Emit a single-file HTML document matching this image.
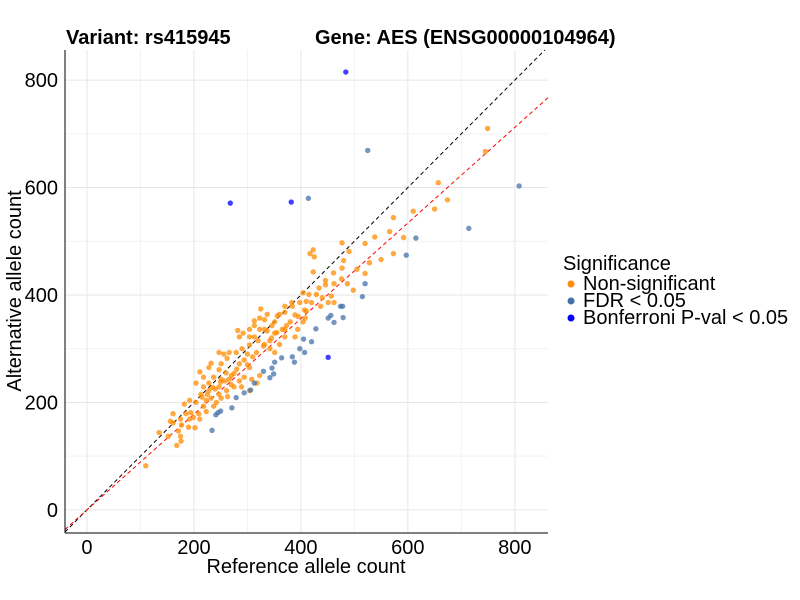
<!DOCTYPE html>
<html><head><meta charset="utf-8"><style>
body{margin:0;background:#fff}
svg{display:block;font-family:"Liberation Sans",sans-serif}
</style></head><body>
<svg id="chart" width="800" height="600" viewBox="0 0 800 600">
<rect width="800" height="600" fill="#fff"/>
<g id="grid"></g>
<g id="lines"></g>
<g id="points"></g>
<line x1="65" y1="50" x2="65" y2="533" stroke="#000" stroke-width="1"/>
<line x1="65" y1="533" x2="548" y2="533" stroke="#000" stroke-width="1"/>
<g id="xticks"></g>
<g id="yticks"></g>
<text x="66" y="44" font-size="20" font-weight="bold">Variant: rs415945</text>
<text x="315" y="44" font-size="20" font-weight="bold">Gene: AES (ENSG00000104964)</text>
<text x="306" y="573" font-size="20" text-anchor="middle">Reference allele count</text>
<text transform="translate(21,291) rotate(-90)" font-size="20" text-anchor="middle">Alternative allele count</text>
<g>
<text x="563" y="270" font-size="20">Significance</text>
<circle cx="571" cy="284" r="3.5" fill="#FF8C00"/>
<text x="583" y="290" font-size="20">Non-significant</text>
<circle cx="571" cy="301" r="3.5" fill="#4472A8"/>
<text x="583" y="307" font-size="20">FDR &lt; 0.05</text>
<circle cx="571" cy="318" r="3.5" fill="#0000FF"/>
<text x="583" y="324" font-size="20">Bonferroni P-val &lt; 0.05</text>
</g>
</svg>
<script>
const xTicks=[0,200,400,600,800];
const yTicks=[0,200,400,600,800];
const minorTicks=[100,300,500,700];
const redSlope=0.89;
const orangeX=[749,745,657,674,650,610,573,566,592,538,520,477,490,573,550,528,505,520,498,487,476,462,477,480,461,423,417,425,423,446,446,434,429,457,451,462,410,404,370,383,407,389,408,404,394,373,360,351,325,332,313,323,304,292,285,282,351,370,389,342,360,332,317,342,351,370,266,262,294,285,304,251,232,228,247,275,294,308,266,251,237,218,211,204,228,247,270,285,261,247,228,213,192,204,223,242,237,218,223,209,194,182,185,175,192,199,211,190,202,177,161,156,152,135,175,176,168,110,171,161,247,256,279,304,313,332,218,232,251,263,275,289,304,318,323,415,420,437,398,384,370,356,337,323,346,365,337,313,304,280,270,258,240,300,310,290,330,345,355,380,395,410,440,300,320,260,250,235,225,215];
const orangeY=[710,667,609,577,560,556,544,518,507,508,496,497,481,477,466,460,448,440,409,421,430,421,450,464,441,484,477,471,443,419,427,413,401,398,386,386,388,404,379,386,372,363,357,350,336,343,364,350,374,354,352,336,322,329,322,334,329,322,322,315,308,308,293,300,293,336,293,282,279,272,265,272,273,265,261,254,247,243,243,243,247,247,257,236,236,229,233,240,222,215,222,215,204,200,204,200,193,193,183,179,181,197,179,169,169,172,169,154,153,158,179,165,137,144,137,128,120,82,147,162,293,290,293,307,322,336,229,208,208,211,229,229,222,236,250,401,386,379,386,379,368,361,364,357,343,336,333,343,336,262,250,240,225,270,285,300,305,320,330,350,360,370,395,290,315,255,238,228,215,210];
const fdrX=[525,414,808,714,615,597,520,515,474,478,479,456,451,462,428,420,405,398,407,384,388,364,351,346,349,330,342,313,306,294,279,271,250,245,241,234];
const fdrY=[669,580,603,524,506,474,421,397,379,379,358,362,357,349,337,313,318,300,293,285,275,283,275,264,253,258,246,236,223,218,209,190,184,181,177,148];
const bonfX=[484,268,382,451];
const bonfY=[815,571,573,284];

const X0=-41,X1=862,Y0=-43,Y1=856,L=65,R=548,T=50,B=533;
const sx=v=>L+(v-X0)/(X1-X0)*(R-L);
const sy=v=>B-(v-Y0)/(Y1-Y0)*(B-T);
const NS='http://www.w3.org/2000/svg';
function mk(tag,attrs,parent){const e=document.createElementNS(NS,tag);for(const k in attrs)e.setAttribute(k,attrs[k]);parent.appendChild(e);return e;}
const grid=document.getElementById('grid');
minorTicks.forEach(v=>{
 let a=mk('line',{x1:sx(v),x2:sx(v),y1:T,y2:B,stroke:'#f2f2f2','stroke-width':1},grid);
 
 
 let b=mk('line',{x1:L,x2:R,y1:sy(v),y2:sy(v),stroke:'#f2f2f2','stroke-width':1},grid);
 
 
});
xTicks.forEach(v=>{
 let a=mk('line',{x1:sx(v),x2:sx(v),y1:T,y2:B,stroke:'#e6e6e6','stroke-width':1},grid);
 
 
 let t=mk('text',{x:sx(v),y:554,'font-size':20,'text-anchor':'middle'},document.getElementById('xticks'));
 t.textContent=v;
 
 
});
yTicks.forEach(v=>{
 let a=mk('line',{x1:L,x2:R,y1:sy(v),y2:sy(v),stroke:'#e6e6e6','stroke-width':1},grid);
 
 
 let t=mk('text',{x:58,y:sy(v)+7,'font-size':20,'text-anchor':'end'},document.getElementById('yticks'));
 t.textContent=v;
 
 
});
const lines=document.getElementById('lines');
let bl=mk('line',{x1:sx(X0),y1:sy(X0),x2:sx(Y1),y2:sy(Y1),stroke:'#000','stroke-width':1,'stroke-dasharray':'4,3'},lines);


let rl=mk('line',{x1:sx(X0),y1:sy(X0*redSlope),x2:sx(X1),y2:sy(X1*redSlope),stroke:'#ff0000','stroke-width':1,'stroke-dasharray':'4,3'},lines);


const pts=document.getElementById('points');
function series(xs,ys,col,name){
 xs.forEach((x,i)=>{
  let c=mk('circle',{cx:sx(x),cy:sy(ys[i]),r:2.7,fill:col,'fill-opacity':0.75},pts);
  
  
 });
}
series(orangeX,orangeY,'#FF8C00','point-non-significant');
series(fdrX,fdrY,'#4472A8','point-fdr');
series(bonfX,bonfY,'#0000FF','point-bonferroni');
</script>
</body></html>
